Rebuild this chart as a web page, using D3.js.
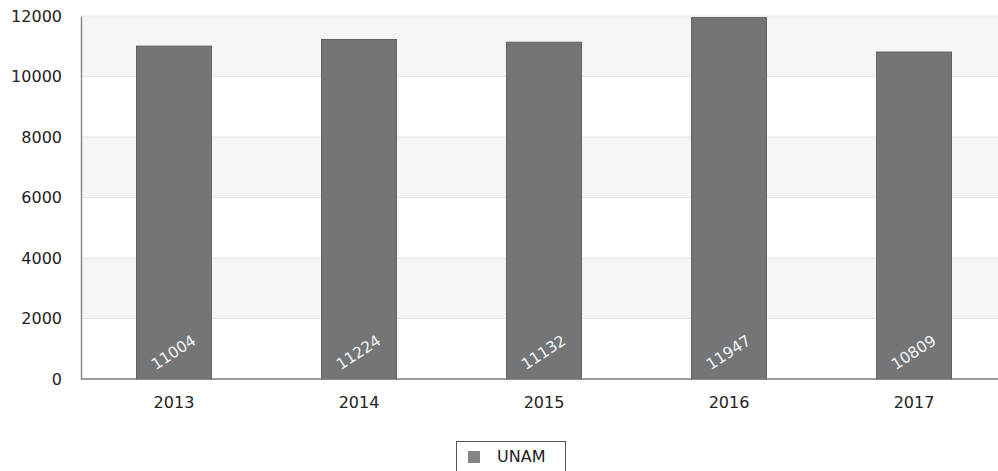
<!DOCTYPE html>
<html><head><meta charset="utf-8">
<script src="https://cdn.jsdelivr.net/npm/d3@7"></script>
<style>body{margin:0;background:#fff;}svg{display:block;font-family:"DejaVu Sans",sans-serif;}</style>
</head><body>
<svg id="c" width="998" height="471"></svg>
<script>
const years = ["2013","2014","2015","2016","2017"];
const unam = [11004, 11224, 11132, 11947, 10809];
const yTicks = [0, 2000, 4000, 6000, 8000, 10000, 12000];
const seriesName = "UNAM";

const svg = d3.select("#c");
const x0 = 81, x1 = 1007, yTop = 16, yBot = 379;
const x = d3.scaleBand().domain(years).range([x0, x1]).paddingInner(0.595).paddingOuter(0.30);
const y = d3.scaleLinear().domain([0, 12000]).range([yBot, yTop]);

// alternating bands
const bands = [];
for (let i = 0; i < yTicks.length - 1; i++) if (i % 2 === 1) bands.push([yTicks[i], yTicks[i+1]]);
svg.append("g").selectAll("rect").data(bands).join("rect")
  .attr("x", x0).attr("width", 998 - x0)
  .attr("y", d => y(d[1])).attr("height", d => y(d[0]) - y(d[1]))
  .attr("fill", "#f5f5f5");

// gridlines
svg.append("g").selectAll("line").data(yTicks.filter(t => t > 0)).join("line")
  .attr("x1", x0).attr("x2", 998).attr("y1", d => y(d)).attr("y2", d => y(d))
  .attr("stroke", "#e6e6e6").attr("stroke-width", 1);

// y axis
const ya = svg.append("g").attr("transform", `translate(${x0},0)`)
  .call(d3.axisLeft(y).tickValues(yTicks).tickFormat(d3.format("d")).tickSize(0).tickPadding(19));
ya.select(".domain").attr("stroke", "#8a8a8a").attr("stroke-width", 1.5);
ya.selectAll("text").attr("font-size", 16).attr("fill", "#222").attr("font-family", "DejaVu Sans");

// bars
svg.append("g").selectAll("rect").data(unam).join("rect")
  .attr("x", (d, i) => x(years[i])).attr("width", x.bandwidth())
  .attr("y", d => y(d)).attr("height", d => yBot - y(d))
  .attr("fill", "#737577").attr("stroke", "#5f6163").attr("stroke-width", 1);

// x axis
const xa = svg.append("g").attr("transform", `translate(0,${yBot})`)
  .call(d3.axisBottom(x).tickSize(0).tickPadding(18));
xa.select(".domain").remove();
svg.append("line").attr("x1", x0).attr("x2", 998).attr("y1", yBot).attr("y2", yBot)
  .attr("stroke", "#7a7a7a").attr("stroke-width", 1.5);
xa.selectAll("text").attr("font-size", 16).attr("fill", "#222").attr("font-family", "DejaVu Sans");

// value labels
svg.append("g").selectAll("text").data(unam).join("text")
  .attr("transform", (d, i) => `translate(${x(years[i]) + x.bandwidth()/2},${yBot - 26}) rotate(-33)`)
  .attr("text-anchor", "middle").attr("dominant-baseline", "middle")
  .attr("font-size", 15.5).attr("fill", "#f4f4f4").text(d => d);

// legend
const lg = svg.append("g");
lg.append("rect").attr("x", 456.5).attr("y", 441.5).attr("width", 109).attr("height", 34)
  .attr("fill", "#fff").attr("stroke", "#555").attr("stroke-width", 1);
lg.append("rect").attr("x", 468).attr("y", 451).attr("width", 12).attr("height", 12).attr("fill", "#838587");
lg.append("text").attr("x", 497).attr("y", 457).attr("dominant-baseline", "middle")
  .attr("font-size", 16).attr("fill", "#222").text(seriesName);
</script>
</body></html>
